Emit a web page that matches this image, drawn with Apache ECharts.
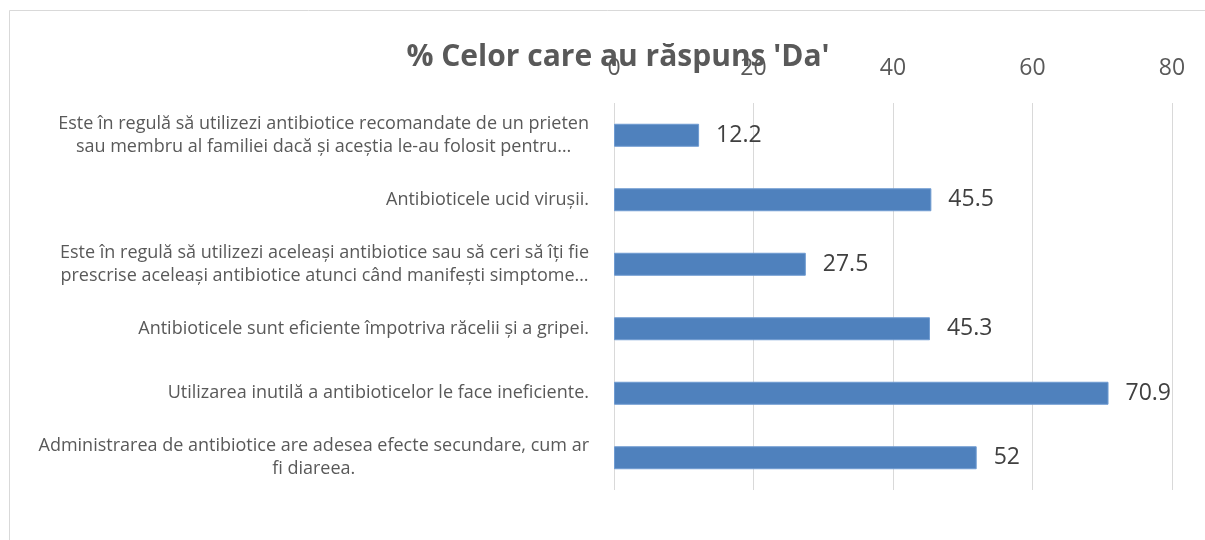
<!DOCTYPE html>
<html>
<head>
<meta charset="utf-8">
<script src="https://cdn.jsdelivr.net/npm/echarts@6/dist/echarts.min.js"></script>
<style>
  html, body { margin: 0; padding: 0; background: #fff; }
  #chart { width: 1205px; height: 540px; }
</style>
</head>
<body>
<div id="chart"></div>
<script>
const categories = [
  'Este în regulă să utilizezi antibiotice recomandate de un prieten\nsau membru al familiei dacă și aceștia le-au folosit pentru…',
  'Antibioticele ucid virușii.',
  'Este în regulă să utilizezi aceleași antibiotice sau să ceri să îți fie\nprescrise aceleași antibiotice atunci când manifești simptome…',
  'Antibioticele sunt eficiente împotriva răcelii și a gripei.',
  'Utilizarea inutilă a antibioticelor le face ineficiente.',
  'Administrarea de antibiotice are adesea efecte secundare, cum ar\nfi diareea.'
];
const values = [12.2, 45.5, 27.5, 45.3, 70.9, 52];
const ticks = [0, 20, 40, 60, 80];

const FONT = '"Open Sans", "Noto Sans", sans-serif';

const chart = echarts.init(document.getElementById('chart'), null, { renderer: 'canvas' });

chart.setOption({
  animation: false,
  backgroundColor: '#fff',
  title: {
    text: "% Celor care au răspuns 'Da'",
    left: 613,
    top: 37,
    textAlign: 'center',
    textStyle: { fontFamily: FONT, fontSize: 30, fontWeight: 'bold', color: '#595959' }
  },
  graphic: [{
    type: 'rect',
    shape: { x: 9.5, y: 10.5, width: 1200, height: 540 },
    style: { fill: 'none', stroke: '#d9d9d9', lineWidth: 1 },
    silent: true
  }],
  grid: { left: 614, right: 33, top: 103, bottom: 50 },
  xAxis: {
    type: 'value',
    position: 'top',
    min: ticks[0],
    max: ticks[ticks.length - 1],
    interval: 20,
    axisLine: { show: false },
    axisTick: { show: false },
    axisLabel: { color: '#595959', fontFamily: FONT, fontSize: 23, margin: 23 },
    splitLine: { lineStyle: { color: '#d9d9d9', width: 1 } }
  },
  yAxis: {
    type: 'category',
    inverse: true,
    data: categories,
    axisLine: { show: false },
    axisTick: { show: false },
    axisLabel: {
      color: '#595959',
      fontFamily: FONT,
      fontSize: 18,
      lineHeight: 23,
      margin: 25,
      align: 'right',
      // lines of a wrapped label are centred on each other
      formatter: (v) => v.split('\n').map((l) => '{c|' + l + '}').join('\n'),
      rich: {
        c: { align: 'center', color: '#595959', fontFamily: FONT, fontSize: 18, lineHeight: 23 }
      }
    }
  },
  series: [{
    type: 'bar',
    data: values,
    barWidth: 23,
    itemStyle: { color: '#4f81bd', borderColor: '#6f9bd1', borderWidth: 1 },
    label: {
      show: true,
      position: 'right',
      distance: 17,
      color: '#404040',
      fontFamily: FONT,
      fontSize: 23
    }
  }]
});
</script>
</body>
</html>
